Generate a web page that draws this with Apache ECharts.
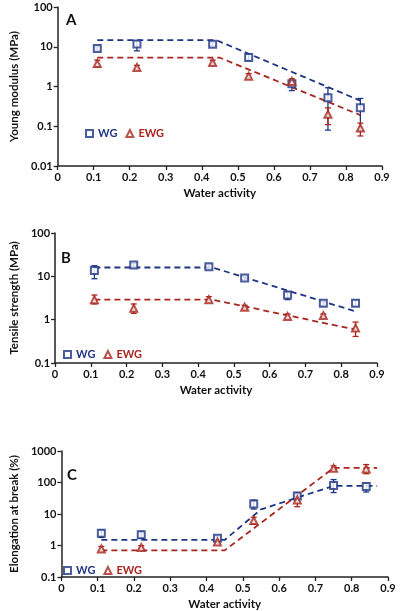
<!DOCTYPE html>
<html>
<head>
<meta charset="utf-8">
<script src="https://cdn.jsdelivr.net/npm/echarts@6/dist/echarts.min.js"></script>
<style>
  html, body { margin: 0; padding: 0; background: #fff; }
  #main { width: 400px; height: 611px; }
</style>
</head>
<body>
<div id="main"></div>
<script>
// water activity of each sample
let waterActivity = [0.11, 0.22, 0.43, 0.53, 0.65, 0.75, 0.84];

// A - Young modulus (MPa)
let youngWG = [9.1, 11.7, 11.5, 5.4, 1.17, 0.52, 0.29];
let youngWGLow = [8.2, 7.9, 10.4, 4.6, 0.79, 0.08, 0.078];
let youngWGHigh = [10, 14.1, 13.1, 6.4, 1.4, 0.93, 0.5];
let youngEWG = [3.8, 3.0, 4.0, 1.82, 1.34, 0.2, 0.09];
let youngEWGLow = [3.1, 2.7, 3.5, 1.6, 1.17, 0.11, 0.057];
let youngEWGHigh = [4.6, 3.4, 4.6, 2.1, 1.56, 0.29, 0.12];
let youngWGTrendX = [0.11, 0.44, 0.84];
let youngWGTrend = [14.7, 14.7, 0.44];
let youngEWGTrendX = [0.11, 0.45, 0.84];
let youngEWGTrend = [5.3, 5.3, 0.19];

// B - Tensile strength (MPa)
let tensileWG = [13.7, 18.2, 16.7, 9.2, 3.7, 2.4, 2.4];
let tensileWGLow = [8.8, 16.5, 14.8, 8.3, 2.9, 2.1, 2.1];
let tensileWGHigh = [17.6, 20, 18.8, 10.2, 4.4, 2.7, 2.8];
let tensileEWG = [2.9, 1.83, 2.9, 1.93, 1.19, 1.24, 0.64];
let tensileEWGLow = [2.3, 1.4, 2.5, 1.72, 1.05, 1.13, 0.41];
let tensileEWGHigh = [3.7, 2.3, 3.4, 2.15, 1.35, 1.35, 0.88];
let tensileWGTrendX = [0.11, 0.44, 0.84];
let tensileWGTrend = [16, 16, 1.55];
let tensileEWGTrendX = [0.11, 0.44, 0.84];
let tensileEWGTrend = [2.9, 2.9, 0.59];

// C - Elongation at break (%)
let elongWG = [2.45, 2.2, 1.7, 20.7, 37, 80, 75];
let elongWGLow = [1.8, 1.7, 1.45, 14.4, 32, 48, 50];
let elongWGHigh = [3.1, 2.8, 2.0, 27.6, 42, 124, 95];
let elongEWG = [0.78, 0.86, 1.3, 6.2, 27.7, 284, 270];
let elongEWGLow = [0.65, 0.75, 1.12, 4.7, 17, 250, 190];
let elongEWGHigh = [0.93, 0.99, 1.5, 7.9, 48, 335, 370];
let elongWGTrendX = [0.11, 0.45, 0.55, 0.75, 0.87];
let elongWGTrend = [1.5, 1.5, 14, 78, 78];
let elongEWGTrendX = [0.11, 0.45, 0.75, 0.87];
let elongEWGTrend = [0.7, 0.7, 290, 290];

let xTicks = ['0', '0.1', '0.2', '0.3', '0.4', '0.5', '0.6', '0.7', '0.8', '0.9'];

const BLUE = '#1f3584';
const RED = '#a8261f';
const FONT = 'Lato';

let chartDom = document.getElementById('main');
let myChart = echarts.init(chartDom);

function pairs(xs, ys) {
    return xs.map((x, i) => [x, ys[i]]);
}

function errorBars(idx, lows, highs, color) {
    return {
        type: 'custom',
        xAxisIndex: idx,
        yAxisIndex: idx,
        silent: true,
        z: 3,
        data: waterActivity.map((x, i) => [x, lows[i], highs[i]]),
        renderItem: (params, api) => {
            let lo = api.coord([api.value(0), api.value(1)]);
            let hi = api.coord([api.value(0), api.value(2)]);
            let w = 3;
            let st = { stroke: color, lineWidth: 1.3 };
            return {
                type: 'group',
                children: [
                    { type: 'line', shape: { x1: lo[0], y1: lo[1], x2: hi[0], y2: hi[1] }, style: st },
                    { type: 'line', shape: { x1: lo[0] - w, y1: lo[1], x2: lo[0] + w, y2: lo[1] }, style: st },
                    { type: 'line', shape: { x1: hi[0] - w, y1: hi[1], x2: hi[0] + w, y2: hi[1] }, style: st }
                ]
            };
        }
    };
}

function points(idx, name, ys, color, symbol) {
    return {
        type: 'scatter',
        name: name,
        xAxisIndex: idx,
        yAxisIndex: idx,
        symbol: symbol,
        symbolSize: symbol === 'emptyRect' ? 7 : 7,
        z: 4,
        itemStyle: { color: color, borderColor: color, borderWidth: 1.3 },
        data: pairs(waterActivity, ys)
    };
}

function trend(idx, xs, ys, color) {
    return {
        type: 'line',
        xAxisIndex: idx,
        yAxisIndex: idx,
        showSymbol: false,
        symbol: 'none',
        silent: true,
        z: 2,
        lineStyle: { color: color, width: 1.8, type: [6, 4] },
        data: pairs(xs, ys)
    };
}

let axisLine = { lineStyle: { color: '#222', width: 1.5 } };
let axisLabelStyle = { color: '#111', fontFamily: FONT, fontWeight: 'bold', fontSize: 11 };

function xAxis(idx) {
    return {
        type: 'value',
        gridIndex: idx,
        min: 0,
        max: 0.9,
        interval: 0.1,
        name: 'Water activity',
        nameLocation: 'middle',
        nameGap: 21,
        nameTextStyle: { color: '#111', fontFamily: FONT, fontWeight: 'bold', fontSize: 11.5 },
        axisLine: axisLine,
        axisTick: { show: true, inside: false, length: 4, lineStyle: { color: '#222', width: 1.3 } },
        splitLine: { show: false },
        axisLabel: Object.assign({ margin: 6, formatter: v => xTicks[Math.round(v * 10)] }, axisLabelStyle)
    };
}

function yAxis(idx, name, min, max, gap) {
    return {
        type: 'log',
        logBase: 10,
        gridIndex: idx,
        min: min,
        max: max,
        name: name,
        nameLocation: 'middle',
        nameGap: gap,
        nameTextStyle: { color: '#111', fontFamily: FONT, fontWeight: 'bold', fontSize: 11.5 },
        axisLine: axisLine,
        axisTick: { show: true, inside: false, length: 4, lineStyle: { color: '#222', width: 1.3 } },
        minorTick: { show: false },
        splitLine: { show: false },
        axisLabel: Object.assign({ margin: 5, formatter: v => String(v) }, axisLabelStyle)
    };
}

function legend(left, top) {
    return {
        left: left,
        top: top,
        itemWidth: 7,
        itemHeight: 7,
        itemGap: 8,
        selectedMode: false,
        textStyle: { fontFamily: FONT, fontWeight: 'bold', fontSize: 11 },
        data: [
            { name: 'WG', icon: 'emptyRect', textStyle: { color: BLUE } },
            { name: 'EWG', icon: 'emptyTriangle', textStyle: { color: RED } }
        ]
    };
}

function panelTitle(text, left, top) {
    return {
        text: text,
        left: left,
        top: top,
        textStyle: { color: '#111', fontFamily: FONT, fontWeight: 'bold', fontSize: 15 }
    };
}

let option = {
    backgroundColor: '#fff',
    animation: false,
    title: [
        panelTitle('A', 61, 8),
        panelTitle('B', 56, 246),
        panelTitle('C', 62, 463)
    ],
    legend: [
        legend(80, 123),
        legend(58, 344),
        legend(58, 560)
    ],
    grid: [
        { left: 49, right: 18, top: 7, height: 159 },
        { left: 39, right: 23, top: 233, height: 130 },
        { left: 51, right: 12, top: 451, height: 126 }
    ],
    xAxis: [xAxis(0), xAxis(1), xAxis(2)],
    yAxis: [
        yAxis(0, 'Young modulus (MPa)', 0.01, 100, 33),
        yAxis(1, 'Tensile strength (MPa)', 0.1, 100, 30),
        yAxis(2, 'Elongation at break (%)', 0.1, 1000, 40)
    ],
    series: [
        trend(0, youngWGTrendX, youngWGTrend, BLUE),
        trend(0, youngEWGTrendX, youngEWGTrend, RED),
        errorBars(0, youngWGLow, youngWGHigh, BLUE),
        errorBars(0, youngEWGLow, youngEWGHigh, RED),
        points(0, 'WG', youngWG, BLUE, 'emptyRect'),
        points(0, 'EWG', youngEWG, RED, 'emptyTriangle'),

        trend(1, tensileWGTrendX, tensileWGTrend, BLUE),
        trend(1, tensileEWGTrendX, tensileEWGTrend, RED),
        errorBars(1, tensileWGLow, tensileWGHigh, BLUE),
        errorBars(1, tensileEWGLow, tensileEWGHigh, RED),
        points(1, 'WG', tensileWG, BLUE, 'emptyRect'),
        points(1, 'EWG', tensileEWG, RED, 'emptyTriangle'),

        trend(2, elongWGTrendX, elongWGTrend, BLUE),
        trend(2, elongEWGTrendX, elongEWGTrend, RED),
        errorBars(2, elongWGLow, elongWGHigh, BLUE),
        errorBars(2, elongEWGLow, elongEWGHigh, RED),
        points(2, 'WG', elongWG, BLUE, 'emptyRect'),
        points(2, 'EWG', elongEWG, RED, 'emptyTriangle')
    ]
};

option && myChart.setOption(option);
</script>
</body>
</html>
